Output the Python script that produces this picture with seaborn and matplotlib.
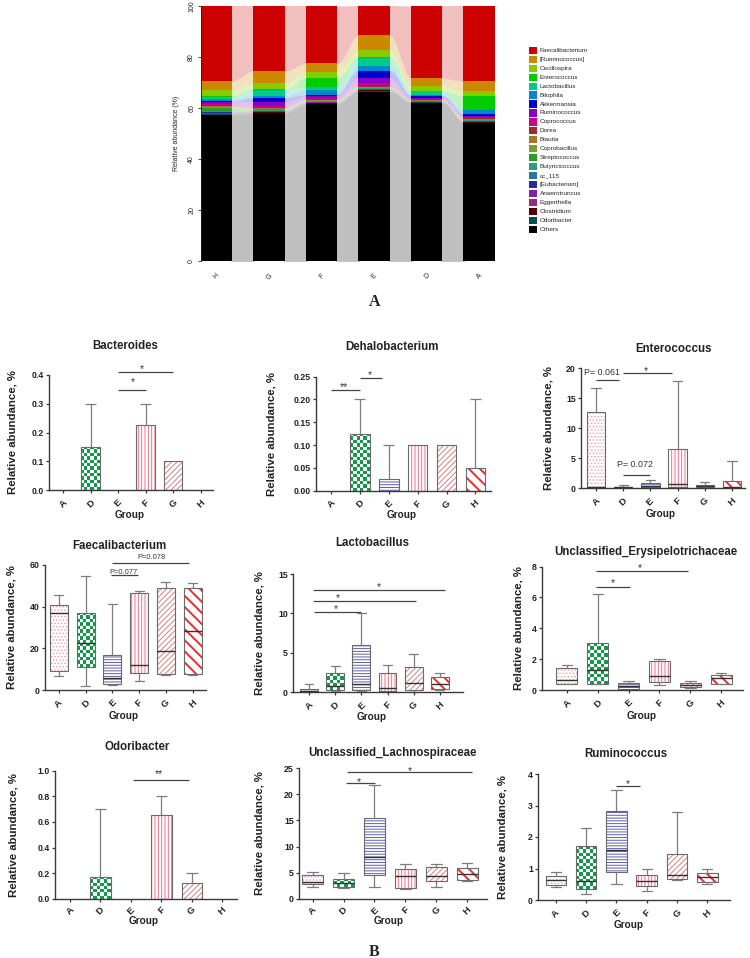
import numpy as np
import pandas as pd
import matplotlib
matplotlib.use("Agg")
import matplotlib.pyplot as plt
import seaborn as sns
from matplotlib.patches import PathPatch, Rectangle
from matplotlib.colors import ListedColormap, to_rgb

# ============================ DATA ============================
# ---- Panel A : stacked relative abundance (%), genera from top to bottom of stack
stack_groups = ["H", "G", "F", "E", "D", "A"]
genera = ["Faecalibacterium", "[Ruminococcus]", "Oscillospira", "Enterococcus",
          "Lactobacillus", "Bilophila", "Akkermansia", "Ruminococcus",
          "Coprococcus", "Dorea", "Blautia", "Coprobacillus", "Streptococcus",
          "Butyricicoccus", "cc_115", "[Eubacterium]", "Anaerotruncus",
          "Eggerthella", "Clostridium", "Odoribacter", "Others"]
genus_colors = ["#CC0000", "#CC8800", "#88CC00", "#00CC00", "#00CC88", "#0088CC",
                "#0000CC", "#8800CC", "#CC0088", "#A02828", "#A07828", "#78A028",
                "#28A028", "#28A078", "#2878A0", "#2828A0", "#7828A0", "#A02878",
                "#500000", "#005050", "#000000"]
abund_H = [29.4, 3.5, 2.3, 0.5, 0.8, 0.8, 0.4, 0.8, 0.4, 0.5, 0.3, 0.3, 1.2, 0.3, 0.2, 0.2, 0.2, 0.2, 0.2, 0.3, 57.2]
abund_G = [25.5, 4.8, 2.4, 0.3, 2.2, 0.9, 1.6, 1.4, 0.4, 0.5, 0.3, 0.2, 0.3, 0.2, 0.1, 0.1, 0.2, 0.2, 0.2, 0.3, 57.9]
abund_F = [22.5, 3.3, 2.5, 3.4, 1.3, 1.8, 0.4, 0.8, 0.3, 0.4, 0.3, 0.2, 0.2, 0.2, 0.1, 0.1, 0.2, 0.2, 0.2, 0.2, 61.4]
abund_E = [11.7, 5.8, 2.7, 0.2, 3.5, 1.6, 3.0, 1.9, 1.0, 0.4, 0.3, 0.2, 0.2, 0.2, 0.1, 0.1, 0.2, 0.2, 0.3, 0.2, 66.4]
abund_D = [28.3, 3.0, 2.0, 0.2, 1.3, 0.3, 1.0, 0.4, 0.3, 0.2, 0.15, 0.1, 0.1, 0.1, 0.05, 0.05, 0.05, 0.1, 0.1, 0.1, 62.1]
abund_A = [29.5, 3.9, 2.0, 5.2, 0.2, 1.7, 0.5, 0.4, 0.3, 0.6, 0.3, 0.2, 0.1, 0.1, 0.1, 0.1, 0.1, 0.2, 0.2, 0.1, 54.2]

# ---- Panel B
groups = ["A", "D", "E", "F", "G", "H"]
nan = float("nan")

# bar charts: bar height and upper end of the error bar
bacteroides_mean = [0, 0.15, 0, 0.225, 0.10, 0]
bacteroides_upper = [nan, 0.30, nan, 0.30, nan, nan]
dehalo_mean = [0, 0.125, 0.025, 0.10, 0.10, 0.05]
dehalo_upper = [nan, 0.20, 0.10, nan, nan, 0.20]
odori_mean = [0, 0.175, 0, 0.65, 0.125, 0]
odori_upper = [nan, 0.70, nan, 0.80, 0.20, nan]

# box charts: [min, Q1, median, Q3, max] per group
entero_box = [[0.0, 0.1, 0.3, 12.8, 16.8], [0.0, 0.05, 0.15, 0.3, 0.5],
              [0.05, 0.1, 0.4, 0.9, 1.4], [0.1, 0.2, 0.8, 6.5, 17.9],
              [0.05, 0.15, 0.35, 0.6, 1.1], [0.0, 0.05, 0.2, 1.3, 4.6]]
faecal_box = [[6.5, 9.0, 37.0, 41.0, 45.5], [2.0, 11.0, 22.5, 37.0, 54.5],
              [2.5, 3.0, 6.0, 17.0, 41.5], [4.5, 8.0, 11.8, 46.5, 47.5],
              [7.2, 7.5, 18.5, 49.0, 52.0], [7.2, 7.5, 28.5, 49.0, 51.5]]
lacto_box = [[0.0, 0.1, 0.2, 0.4, 1.1], [0.2, 0.3, 0.8, 2.4, 3.3],
             [0.2, 0.3, 1.0, 6.0, 10.0], [0.1, 0.2, 0.6, 2.5, 3.4],
             [0.1, 0.35, 1.2, 3.2, 4.8], [0.3, 0.4, 1.1, 2.0, 2.5]]
erysi_box = [[0.4, 0.4, 0.65, 1.4, 1.6], [0.4, 0.4, 1.3, 3.05, 6.2],
             [0.0, 0.05, 0.25, 0.45, 0.6], [0.35, 0.5, 0.9, 1.85, 2.0],
             [0.15, 0.2, 0.35, 0.45, 0.6], [0.4, 0.4, 0.8, 1.0, 1.1]]
lachno_box = [[2.2, 2.8, 3.3, 4.5, 5.2], [2.1, 2.3, 3.1, 3.9, 5.0],
              [2.2, 4.5, 8.0, 15.5, 21.8], [2.0, 2.1, 4.3, 5.8, 6.7],
              [2.2, 3.4, 4.4, 6.1, 6.7], [3.4, 3.6, 4.7, 5.9, 6.8]]
rumino_box = [[0.4, 0.48, 0.62, 0.75, 0.9], [0.2, 0.35, 0.6, 1.7, 2.3],
              [0.5, 0.88, 1.6, 2.82, 3.5], [0.3, 0.45, 0.6, 0.78, 1.0],
              [0.62, 0.68, 0.8, 1.45, 2.8], [0.5, 0.58, 0.72, 0.85, 1.0]]

# y ticks
bact_ticks = [0, 0.1, 0.2, 0.3, 0.4]
dehalo_ticks = [0, 0.05, 0.10, 0.15, 0.20, 0.25]
entero_ticks = [0, 5, 10, 15, 20]
faecal_ticks = [0, 20, 40, 60]
lacto_ticks = [0, 5, 10, 15]
erysi_ticks = [0, 2, 4, 6, 8]
odori_ticks = [0, 0.2, 0.4, 0.6, 0.8, 1.0]
lachno_ticks = [0, 5, 10, 15, 20, 25]
rumino_ticks = [0, 1, 2, 3, 4]

# significance: (from group idx, to group idx, line height, label, label x, label offset pt)
bact_sig = [(2, 4, 0.409, "*", 2.86, 0.5), (2, 3, 0.347, "*", 2.55, 3.5)]
dehalo_sig = [(0, 1, 0.22, "**", 0.45, 0.0), (1, 1.75, 0.247, "*", 1.34, -0.5)]
entero_sig = [(0, 0.83, 18.0, "P= 0.061", 0.22, 3.7), (1, 2.81, 19.2, "*", 1.84, -0.4),
              (1, 2, 2.3, "P= 0.072", 1.43, 5.5)]
faecal_sig = [(1.94, 2.97, 55.3, "P=0.077", 2.43, 0.4), (1.98, 4.87, 61.0, "P=0.078", 3.45, 2.6)]
lacto_sig = [(0.2, 2.0, 10.2, "*", 1.03, 0), (0.15, 4.1, 11.6, "*", 1.12, 0),
             (0.15, 5.2, 13.0, "*", 2.67, 0)]
erysi_sig = [(0.94, 2.05, 6.66, "*", 1.48, 1.2), (0.94, 3.94, 7.74, "*", 2.35, -0.4)]
odori_sig = [(2.06, 3.91, 0.926, "**", 2.93, 1.9)]
lachno_sig = [(1.08, 2.01, 22.1, "*", 1.48, -1.1), (1.1, 5.15, 24.2, "*", 3.15, -1.1)]
rumino_sig = [(2.0, 2.77, 3.62, "*", 2.37, -0.6)]

# ============================ STYLE ============================
sns.set_theme(style="ticks")
plt.rcParams["font.family"] = ["Liberation Sans", "DejaVu Sans"]
plt.rcParams["hatch.linewidth"] = 0.7

pattern_style = {
    "A": ("hatch", ".....", "#f2a2ae"),
    "D": ("checker", None, "#13994a"),
    "E": ("hatch", "------", "#5f5fae"),
    "F": ("hatch", "|||||", "#f2708a"),
    "G": ("hatch", "//////", "#d48080"),
    "H": ("hatch", "\\\\\\", "#f02a2a"),
}
AXC = "#3a3a3a"
LINEC = "#7d7d7d"

W, H = 750.0, 958.0
fig = plt.figure(figsize=(7.5, 9.58), dpi=100)


def fx(x):
    return x / W


def fy(y):
    return 1 - y / H


def px_axes(l, r, t, b):
    return fig.add_axes([l / W, 1 - b / H, (r - l) / W, (b - t) / H])


# ============================ PANEL A ============================
axA = px_axes(200.7, 495.0, 6.0, 261.0)
mat = np.array([abund_H, abund_G, abund_F, abund_E, abund_D, abund_A])
tops = np.cumsum(mat[:, ::-1], axis=1)[:, ::-1]
half = 0.3
for i, c in enumerate(genus_colors):
    light = tuple(0.75 + 0.25 * np.array(to_rgb(c)))
    for j in range(len(stack_groups) - 1):
        x = np.linspace(j + half - 0.02, j + 1 - half + 0.02, 60)
        t = np.clip((x - (j + half)) / (1 - 2 * half), 0, 1)
        s = t * t * (3 - 2 * t)
        y = tops[j, i] + (tops[j + 1, i] - tops[j, i]) * s
        axA.fill_between(x, 0, y, color=light, lw=0, zorder=0.5)
    sns.barplot(x=stack_groups, y=tops[:, i], color=c, width=0.6, saturation=1,
                errorbar=None, linewidth=0, ax=axA, zorder=1)
axA.set_xlim(-0.3, 5.3)
axA.set_ylim(0, 100)
for s_ in ("top", "right", "bottom"):
    axA.spines[s_].set_visible(False)
axA.spines["left"].set_color("#222222")
axA.spines["left"].set_linewidth(0.6)
axA.set_yticks(range(0, 101, 20))
axA.set_yticklabels([str(v) for v in range(0, 101, 20)], rotation=90, va="center", fontsize=5)
axA.set_xticks(range(6))
axA.set_xticklabels(stack_groups, rotation=45, fontsize=5, ha="center", va="top")
axA.tick_params(axis="x", length=0, pad=8)
axA.tick_params(axis="y", length=2.5, width=0.6, pad=1.5, color="#222222")
axA.set_xlabel("")
axA.set_ylabel("")
fig.text(fx(177), fy(133.5), "Relative abundance (%)", rotation=90, ha="center",
         va="center", fontsize=5)
for k, (g, c) in enumerate(zip(genera, genus_colors)):
    yc = 50.3 + k * 8.95
    fig.add_artist(Rectangle((fx(529.3), fy(yc + 3.6)), 7.4 / W, 7.2 / H,
                             transform=fig.transFigure, facecolor=c, edgecolor="none"))
    fig.text(fx(540), fy(yc), g, fontsize=4.6, va="center", ha="left")

fig.text(fx(375), fy(302), "A", fontfamily="Liberation Serif", fontweight="bold",
         fontsize=11.5, ha="center", va="center")
fig.text(fx(374), fy(951.5), "B", fontfamily="Liberation Serif", fontweight="bold",
         fontsize=11.5, ha="center", va="center")


# ============================ PANEL B helpers ============================
def add_checker(ax, patch, color, cell=3.3):
    bb = patch.get_window_extent()
    if bb.height < 1.0 or bb.width < 1.0:
        return
    nx = max(1, int(round(bb.width / cell)))
    ny = max(1, int(round(bb.height / cell)))
    board = np.indices((ny, nx)).sum(axis=0) % 2
    inv = ax.transData.inverted()
    (x0, y0), (x1, y1) = inv.transform([[bb.x0, bb.y0], [bb.x1, bb.y1]])
    im = ax.imshow(board, cmap=ListedColormap(["white", color]), vmin=0, vmax=1,
                   extent=(x0, x1, y0, y1), origin="lower", interpolation="nearest",
                   aspect="auto", zorder=patch.get_zorder() + 0.05)
    im.set_clip_path(patch)


def decorate(ax, patch, key, outline="#6a6a6a"):
    bb = patch.get_window_extent()
    if bb.height < 0.5:
        patch.set_visible(False)
        return
    kind, hatch, color = pattern_style[key]
    z = patch.get_zorder()
    path, tr = patch.get_path(), patch.get_transform()
    patch.set_facecolor("white")
    patch.set_edgecolor("none")
    if kind == "checker":
        add_checker(ax, patch, color)
    else:
        hp = PathPatch(path, transform=tr, facecolor="none", edgecolor=color,
                       hatch=hatch, lw=0, zorder=z + 0.1)
        if hasattr(hp, "set_hatchcolor"):
            hp.set_hatchcolor(color)
        if key == "H" and hasattr(hp, "set_hatch_linewidth"):
            hp.set_hatch_linewidth(1.4)
        ax.add_patch(hp)
    ax.add_patch(PathPatch(path, transform=tr, facecolor="none", edgecolor=outline,
                           lw=0.8, zorder=z + 0.2))


def add_sig(ax, sig, pfs):
    for x1, x2, y, label, xt, dy in sig:
        ax.plot([x1, x2], [y, y], color="#444444", lw=0.9, clip_on=False,
                solid_capstyle="butt", zorder=4)
        if label.startswith("P"):
            ax.annotate(label, (xt, y), xytext=(0, dy), textcoords="offset points",
                        ha="center", va="baseline", fontsize=pfs, color="#333333",
                        annotation_clip=False)
        else:
            ax.annotate(label, (xt, y), xytext=(0, dy), textcoords="offset points",
                        ha="center", va="baseline", fontsize=7.5, color="#333333",
                        annotation_clip=False)


def draw_panel(kind, values, upper, yticks, yfmt, sig, pfs, box, xlim, title,
               title_xy, ylab_x, group_xy, tickpad):
    l, r, t, b = box
    ax = px_axes(l, r, t, b)
    if kind == "bar":
        sns.barplot(x=groups, y=values, color="white", width=0.68, saturation=1,
                    errorbar=None, linewidth=0, ax=ax)
    else:
        df = pd.DataFrame({"group": np.repeat(groups, 5),
                           "value": np.concatenate(values)})
        sns.boxplot(data=df, x="group", y="value", order=groups, whis=(0, 100),
                    width=0.68, color="white", linecolor=LINEC, linewidth=0.9,
                    fliersize=0, saturation=1, ax=ax)
    ax.set_xlim(*xlim)
    ax.set_ylim(0, yticks[-1])
    ax.spines["top"].set_visible(False)
    ax.spines["right"].set_visible(False)
    for s_ in ("left", "bottom"):
        ax.spines[s_].set_color(AXC)
        ax.spines[s_].set_linewidth(1.0)
    ax.set_yticks(yticks)
    ax.set_yticklabels([yfmt.format(v) for v in yticks], fontsize=6.3, fontweight="bold")
    ax.set_xticks(range(len(groups)))
    ax.set_xticklabels(groups, rotation=45, ha="center", va="top", fontsize=6.8,
                       fontweight="bold")
    ax.tick_params(axis="both", length=2.2, width=0.9, color=AXC, labelcolor="#222222")
    ax.tick_params(axis="y", pad=1.5)
    ax.tick_params(axis="x", pad=tickpad)
    ax.set_xlabel("")
    ax.set_ylabel("")

    for key, p in zip(groups, list(ax.patches)):
        decorate(ax, p, key)

    if kind == "bar":
        for k, up in enumerate(upper):
            if np.isfinite(up):
                ax.vlines(k, values[k], up, colors=LINEC, lw=0.9, zorder=1.5)
                ax.hlines(up, k - 0.19, k + 0.19, colors=LINEC, lw=0.9, zorder=1.5)
    else:
        for ln in ax.lines:
            xd = np.asarray(ln.get_xdata(), float)
            yd = np.asarray(ln.get_ydata(), float)
            if len(xd) < 2:
                continue
            ln.set_zorder(2.6)
            if np.isclose(yd[0], yd[-1]) and abs(xd[-1] - xd[0]) > 0.5:
                ln.set_color("#333333")
                ln.set_linewidth(1.0)
            else:
                ln.set_color(LINEC)
                ln.set_linewidth(0.9)

    add_sig(ax, sig, pfs)
    ax.set_xlim(*xlim)
    ax.set_ylim(0, yticks[-1])

    fig.text(fx(title_xy[0]), fy(title_xy[1]), title, ha="center", va="center",
             fontsize=8.3, fontweight="bold", color="#222222")
    fig.text(fx(ylab_x), fy((t + b) / 2), "Relative abundance, %", rotation=90,
             ha="center", va="center", fontsize=8.2, fontweight="bold", color="#222222")
    fig.text(fx(group_xy[0]), fy(group_xy[1]), "Group", ha="center", va="center",
             fontsize=7.2, fontweight="bold", color="#222222")
    return ax


# ============================ PANEL B ============================
draw_panel("bar", bacteroides_mean, bacteroides_upper, bact_ticks, "{:.1f}", bact_sig, 6.3,
           (49, 213, 375, 490), (-0.51, 5.45), "Bacteroides", (125, 346), 12.7, (130, 515), 3.5)
draw_panel("bar", dehalo_mean, dehalo_upper, dehalo_ticks, "{:.2f}", dehalo_sig, 6.3,
           (316, 491, 376.5, 490.7), (-0.52, 5.54), "Dehalobacterium", (391.5, 347), 271.7,
           (401.7, 515), 3.5)
draw_panel("box", entero_box, None, entero_ticks, "{:.0f}", entero_sig, 6.4,
           (581, 745, 368.3, 488.3), (-0.55, 5.48), "Enterococcus", (674, 349), 548.3,
           (660.7, 514), 3.5)
draw_panel("box", faecal_box, None, faecal_ticks, "{:.0f}", faecal_sig, 5.4,
           (45, 206, 565, 690), (-0.52, 5.5), "Faecalibacterium", (119.5, 546), 11.7,
           (123.3, 716), 3.5)
draw_panel("box", lacto_box, None, lacto_ticks, "{:.0f}", lacto_sig, 6.3,
           (293, 463, 574, 692.3), (-0.61, 5.88), "Lactobacillus", (372, 543), 259,
           (371.7, 716.7), 3.5)
draw_panel("box", erysi_box, None, erysi_ticks, "{:.0f}", erysi_sig, 6.3,
           (542, 743, 566.6, 690), (-0.81, 5.71), "Unclassified_Erysipelotrichaceae",
           (645.5, 552), 518.3, (641.7, 716), 3.5)
draw_panel("bar", odori_mean, odori_upper, odori_ticks, "{:.1f}", odori_sig, 6.3,
           (55, 237, 770.5, 899), (-0.49, 5.48), "Odoribacter", (137, 747.3), 13.3,
           (144, 920.5), 2.2)
draw_panel("box", lachno_box, None, lachno_ticks, "{:.0f}", lachno_sig, 6.3,
           (299, 487, 768, 899), (-0.44, 5.64), "Unclassified_Lachnospiraceae",
           (392.7, 752.7), 260, (388.3, 920.5), 2.2)
draw_panel("box", rumino_box, None, rumino_ticks, "{:.0f}", rumino_sig, 6.3,
           (538, 730, 774, 900), (-0.59, 5.75), "Ruminococcus", (625.5, 754), 502.7,
           (628.3, 925), 3.5)

fig.savefig("out.png", dpi=100)
